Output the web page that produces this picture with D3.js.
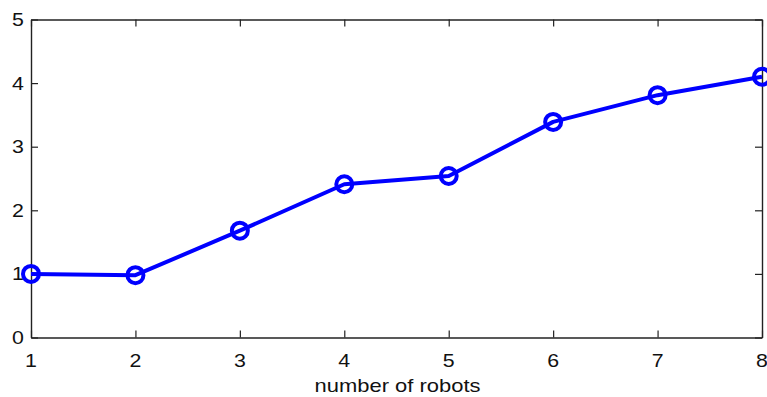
<!DOCTYPE html>
<html>
<head>
<meta charset="utf-8">
<script src="https://cdn.jsdelivr.net/npm/d3@7"></script>
<style>
  html, body { margin: 0; padding: 0; background: #fff; }
  svg { display: block; }
  text { font-family: "Liberation Sans", Arial, Helvetica, sans-serif; fill: #111; }
</style>
</head>
<body>
<script>
// Number of robots on the x axis
const robots = [1, 2, 3, 4, 5, 6, 7, 8];
// Measured value for each team size
const values = [1.00, 0.98, 1.68, 2.41, 2.54, 3.39, 3.81, 4.10];
// Tick values
const xTicks = [1, 2, 3, 4, 5, 6, 7, 8];
const yTicks = [0, 1, 2, 3, 4, 5];
const xLabel = "number of robots";

const W = 767, H = 397;
const margin = { left: 31, right: 5, top: 19.5, bottom: 59.5 };
const stretch = 1.22; // glyphs drawn slightly wide

const svg = d3.select("body").append("svg")
  .attr("width", W).attr("height", H);

const x = d3.scaleLinear().domain([1, 8]).range([margin.left, W - margin.right]);
const y = d3.scaleLinear().domain([0, 5]).range([H - margin.bottom, margin.top]);

const axisColor = "#222";
const tickLen = 7;

// Box-style axes: ticks pointing inward on all four sides
const axes = svg.append("g");
axes.append("g")
  .attr("transform", `translate(0,${y(0)})`)
  .call(d3.axisBottom(x).tickValues(xTicks).tickSizeInner(-tickLen).tickSizeOuter(0).tickFormat(""));
axes.append("g")
  .attr("transform", `translate(0,${y(5)})`)
  .call(d3.axisTop(x).tickValues(xTicks).tickSizeInner(-tickLen).tickSizeOuter(0).tickFormat(""));
axes.append("g")
  .attr("transform", `translate(${x(1)},0)`)
  .call(d3.axisLeft(y).tickValues(yTicks).tickSizeInner(-tickLen).tickSizeOuter(0).tickFormat(""));
axes.append("g")
  .attr("transform", `translate(${x(8)},0)`)
  .call(d3.axisRight(y).tickValues(yTicks).tickSizeInner(-tickLen).tickSizeOuter(0).tickFormat(""));
axes.selectAll("path.domain").attr("stroke", axisColor).attr("stroke-width", 1.4);
axes.selectAll(".tick line").attr("stroke", axisColor).attr("stroke-width", 1.2);

// Tick labels
const fs = 17.5;
svg.append("g").selectAll("text").data(xTicks).join("text")
  .attr("transform", d => `translate(${x(d)},${y(0) + 29}) scale(${stretch},1)`)
  .attr("text-anchor", "middle")
  .attr("font-size", fs)
  .text(d => d);
svg.append("g").selectAll("text").data(yTicks).join("text")
  .attr("transform", d => `translate(${x(1) - 7},${y(d) + 6.5}) scale(${stretch},1)`)
  .attr("text-anchor", "end")
  .attr("font-size", fs)
  .text(d => d);

// Axis title
svg.append("text")
  .attr("transform", `translate(${(x(4) + x(5)) / 2 + 1},${y(0) + 54}) scale(${stretch},1)`)
  .attr("text-anchor", "middle")
  .attr("font-size", 18)
  .text(xLabel);

// Data line with circle markers
const pts = robots.map((r, i) => [r, values[i]]);
const blue = "#0000ff";
svg.append("path")
  .datum(pts)
  .attr("fill", "none")
  .attr("stroke", blue)
  .attr("stroke-width", 4)
  .attr("stroke-linejoin", "round")
  .attr("d", d3.line().x(d => x(d[0])).y(d => y(d[1])));

svg.append("g").selectAll("circle").data(pts).join("circle")
  .attr("cx", d => x(d[0]))
  .attr("cy", d => y(d[1]))
  .attr("r", 8)
  .attr("fill", "none")
  .attr("stroke", blue)
  .attr("stroke-width", 4);
</script>
</body>
</html>
